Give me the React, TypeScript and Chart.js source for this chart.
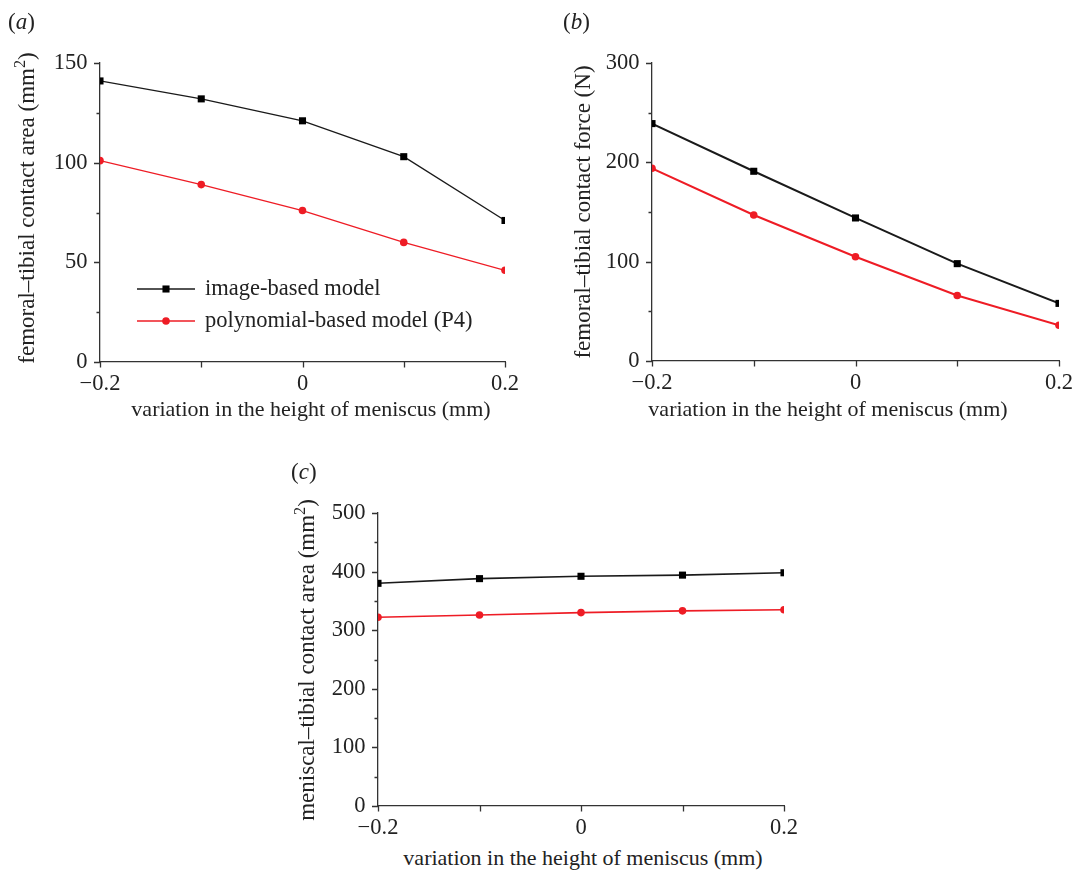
import React, { useEffect, useRef } from 'react';
import { Chart, registerables } from 'chart.js';

Chart.register(...registerables);

// ---------- data ----------
const xValues = [-0.2, -0.1, 0, 0.1, 0.2];
const xTickLabels = ['\u22120.2', '', '0', '', '0.2'];

const areaImage = [141, 132, 121, 103, 71];
const areaPoly = [101, 89, 76, 60, 46];

const forceImage = [239, 191, 144, 98, 58];
const forcePoly = [194, 147, 105, 66, 36];

const meniscalImage = [380, 388, 392, 394, 398];
const meniscalPoly = [322, 326, 330, 333, 335];

const seriesNames = ['image-based model', 'polynomial-based model (P4)'];

const FONT = '"Liberation Serif", "Times New Roman", serif';
const BLACK = '#1a1a1a';
const RED = '#ee1c25';
const AXIS = '#333333';

type Panel = {
  left: number; top: number; width: number; height: number;
  plotL: number; plotR: number; plotT: number; plotB: number;
  yMax: number; yStep: number; yMajor: number;
  image: number[]; poly: number[];
  lineWidth: number; legend: boolean;
};

const tickPlugin = {
  id: 'customTicks',
  afterDraw(chart: any, _args: any, opts: any) {
    const ctx = chart.ctx;
    const xs = chart.scales.x;
    const ys = chart.scales.y;
    const area = chart.chartArea;
    ctx.save();
    ctx.strokeStyle = AXIS;
    ctx.lineWidth = 1.3;
    ctx.beginPath();
    for (const t of xs.ticks) {
      const px = Math.round(xs.getPixelForValue(t.value)) + 0.5;
      ctx.moveTo(px, area.bottom);
      ctx.lineTo(px, area.bottom + 5.5);
    }
    for (const t of ys.ticks) {
      const major = Math.abs(t.value % opts.major) < 1e-6;
      const len = major ? 6 : 3.5;
      const py = Math.round(ys.getPixelForValue(t.value)) + 0.5;
      ctx.moveTo(area.left, py);
      ctx.lineTo(area.left - len, py);
    }
    ctx.stroke();
    ctx.restore();
  },
};

const legendPlugin = {
  id: 'insideLegend',
  afterDraw(chart: any, _args: any, opts: any) {
    if (!opts || !opts.show) return;
    const ctx = chart.ctx;
    const area = chart.chartArea;
    const rows = chart.data.datasets;
    ctx.save();
    rows.forEach((ds: any, i: number) => {
      const y = area.top + 226 + i * 32;
      const x0 = area.left + 37;
      const x1 = area.left + 95;
      ctx.strokeStyle = ds.borderColor;
      ctx.lineWidth = ds.borderWidth;
      ctx.beginPath();
      ctx.moveTo(x0, y);
      ctx.lineTo(x1, y);
      ctx.stroke();
      ctx.fillStyle = ds.pointBackgroundColor;
      const cx = (x0 + x1) / 2;
      if (ds.pointStyle === 'rect') {
        const s = ds.pointRadius * Math.SQRT1_2;
        ctx.fillRect(cx - s, y - s, 2 * s, 2 * s);
      } else {
        ctx.beginPath();
        ctx.arc(cx, y, ds.pointRadius, 0, Math.PI * 2);
        ctx.fill();
      }
      ctx.fillStyle = '#222';
      ctx.font = `22.5px ${FONT}`;
      ctx.textBaseline = 'middle';
      ctx.textAlign = 'left';
      ctx.fillText(ds.label, area.left + 105, y);
    });
    ctx.restore();
  },
};

function ChartPanel({ p }: { p: Panel }) {
  const ref = useRef<HTMLCanvasElement | null>(null);
  useEffect(() => {
    if (!ref.current) return;
    const yWidth = p.plotL - p.left;
    const xHeight = p.top + p.height - p.plotB;
    const chart = new Chart(ref.current, {
      type: 'line',
      data: {
        datasets: [
          {
            label: seriesNames[0],
            data: xValues.map((x, i) => ({ x, y: p.image[i] })),
            borderColor: BLACK,
            borderWidth: p.lineWidth,
            pointStyle: 'rect',
            pointRadius: 5,
            pointBackgroundColor: '#000',
            pointBorderWidth: 0,
            tension: 0,
          },
          {
            label: seriesNames[1],
            data: xValues.map((x, i) => ({ x, y: p.poly[i] })),
            borderColor: RED,
            borderWidth: p.lineWidth,
            pointStyle: 'circle',
            pointRadius: 3.8,
            pointBackgroundColor: RED,
            pointBorderWidth: 0,
            tension: 0,
          },
        ],
      },
      options: {
        animation: false,
        responsive: false,
        maintainAspectRatio: false,
        events: [],
        layout: {
          padding: {
            left: 0,
            top: p.plotT - p.top,
            right: p.left + p.width - p.plotR,
            bottom: 0,
          },
        },
        plugins: {
          legend: { display: false },
          tooltip: { enabled: false },
          customTicks: { major: p.yMajor },
          insideLegend: { show: p.legend },
        } as any,
        scales: {
          x: {
            type: 'linear',
            min: -0.2,
            max: 0.2,
            grid: { display: false, drawTicks: false },
            border: { display: true, color: AXIS, width: 1.3 },
            ticks: {
              stepSize: 0.1,
              autoSkip: false,
              maxRotation: 0,
              padding: 9,
              color: '#222',
              font: { family: FONT, size: 22.5 },
              callback: (v: any) => {
                const idx = Math.round((Number(v) + 0.2) / 0.1);
                return xTickLabels[idx] ?? '';
              },
            },
            afterFit: (s: any) => {
              s.height = xHeight;
              s.paddingLeft = 0;
              s.paddingRight = 0;
            },
          },
          y: {
            type: 'linear',
            min: 0,
            max: p.yMax,
            grid: { display: false, drawTicks: false },
            border: { display: true, color: AXIS, width: 1.3 },
            ticks: {
              stepSize: p.yStep,
              autoSkip: false,
              padding: 12.5,
              color: '#222',
              font: { family: FONT, size: 22.5 },
              callback: (v: any) => (Math.abs(Number(v) % p.yMajor) < 1e-6 ? String(v) : ''),
            },
            afterFit: (s: any) => {
              s.width = yWidth;
              s.paddingTop = 0;
              s.paddingBottom = 0;
            },
          },
        },
      },
      plugins: [tickPlugin, legendPlugin],
    });
    return () => chart.destroy();
  }, [p]);
  return (
    <canvas
      ref={ref}
      width={p.width}
      height={p.height}
      style={{ position: 'absolute', left: p.left, top: p.top, width: p.width, height: p.height }}
    />
  );
}

const panelA: Panel = {
  left: 0, top: 30, width: 540, height: 370,
  plotL: 100, plotR: 505, plotT: 63, plotB: 362,
  yMax: 150, yStep: 25, yMajor: 50,
  image: areaImage, poly: areaPoly, lineWidth: 1.3, legend: true,
};
const panelB: Panel = {
  left: 560, top: 30, width: 513, height: 370,
  plotL: 652, plotR: 1059, plotT: 63, plotB: 361,
  yMax: 300, yStep: 50, yMajor: 100,
  image: forceImage, poly: forcePoly, lineWidth: 2, legend: false,
};
const panelC: Panel = {
  left: 280, top: 480, width: 540, height: 365,
  plotL: 378, plotR: 784, plotT: 513, plotB: 806,
  yMax: 500, yStep: 50, yMajor: 100,
  image: meniscalImage, poly: meniscalPoly, lineWidth: 1.6, legend: false,
};

const textBase: React.CSSProperties = {
  position: 'absolute',
  fontFamily: FONT,
  fontSize: 22,
  color: '#222',
  whiteSpace: 'nowrap',
  lineHeight: '24px',
};

function HTitle({ cx, cy, children }: { cx: number; cy: number; children: React.ReactNode }) {
  return <div style={{ ...textBase, left: cx, top: cy, transform: 'translate(-50%, -50%)' }}>{children}</div>;
}
function VTitle({ cx, cy, children }: { cx: number; cy: number; children: React.ReactNode }) {
  return (
    <div
      style={{
        ...textBase,
        fontSize: 23,
        left: cx,
        top: cy,
        transform: 'translate(-50%, -50%) rotate(-90deg)',
      }}
    >
      {children}
    </div>
  );
}
const sup: React.CSSProperties = { fontSize: '0.7em', verticalAlign: '0.55em', lineHeight: 0 };

function PanelLabel({ x, cy, letter }: { x: number; cy: number; letter: string }) {
  return (
    <div style={{ ...textBase, fontSize: 23, left: x, top: cy, transform: 'translateY(-50%)' }}>
      (<i>{letter}</i>)
    </div>
  );
}

export default function App() {
  useEffect(() => {
    document.body.style.margin = '0';
    document.body.style.background = '#fff';
  }, []);
  return (
    <div style={{ position: 'relative', width: 1073, height: 871, background: '#fff', overflow: 'hidden' }}>
      <ChartPanel p={panelA} />
      <ChartPanel p={panelB} />
      <ChartPanel p={panelC} />

      <PanelLabel x={8} cy={22} letter="a" />
      <PanelLabel x={563} cy={22} letter="b" />
      <PanelLabel x={291} cy={472} letter="c" />

      <VTitle cx={27} cy={208}>
        femoral–tibial contact area (mm<sup style={sup}>2</sup>)
      </VTitle>
      <HTitle cx={311} cy={409}>variation in the height of meniscus (mm)</HTitle>

      <VTitle cx={583} cy={212}>femoral–tibial contact force (N)</VTitle>
      <HTitle cx={828} cy={409}>variation in the height of meniscus (mm)</HTitle>

      <VTitle cx={307} cy={660}>
        meniscal–tibial contact area (mm<sup style={sup}>2</sup>)
      </VTitle>
      <HTitle cx={583} cy={858}>variation in the height of meniscus (mm)</HTitle>
    </div>
  );
}
